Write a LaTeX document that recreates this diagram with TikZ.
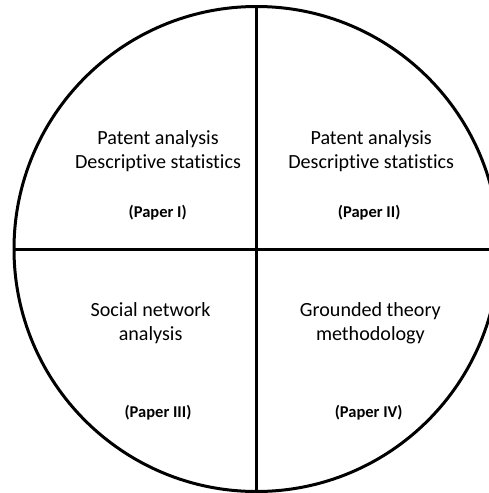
\documentclass[tikz,border=0pt]{standalone}
\usepackage{fontspec}
\setmainfont[Ligatures=NoCommon]{Carlito}
\begin{document}
\begin{tikzpicture}[x=1pt,y=-1pt,
  rim/.style={line width=3pt,black},
  method/.style={align=center,inner sep=0pt,font=\fontsize{20.1}{24}\selectfont},
  paper/.style={inner sep=0pt,font=\fontsize{16.5}{20}\selectfont\bfseries}]
  \useasboundingbox (0,0) rectangle (489,493);
  \begin{scope}
    \clip (0,0) rectangle (489,493);
    \coordinate (c) at (256.5,249);
    \coordinate (top) at (256.5,6);
    \coordinate (bot) at (256.5,493);
    \coordinate (lft) at (14,249);
    \coordinate (rgt) at (489,249);
    \draw[rim] (c) circle[radius=242.5];
    \draw[rim] (top) -- (bot);
    \draw[rim] (lft) -- (rgt);
  \end{scope}
  % quadrant labels
  \node[method] (q1) at (158,151) {Patent analysis\\Descriptive statistics};
  \node[paper]  (p1) at (157.7,213) {(Paper I)};
  \node[method] (q2) at (371.2,151) {Patent analysis\\Descriptive statistics};
  \node[paper]  (p2) at (369.2,213) {(Paper II)};
  \node[method] (q3) at (150.6,323.3) {Social network\\analysis};
  \node[paper]  (p3) at (158,412.3) {(Paper III)};
  \node[method] (q4) at (370.4,323.5) {Grounded theory\\methodology};
  \node[paper]  (p4) at (368.7,412.3) {(Paper IV)};
\end{tikzpicture}
\end{document}
